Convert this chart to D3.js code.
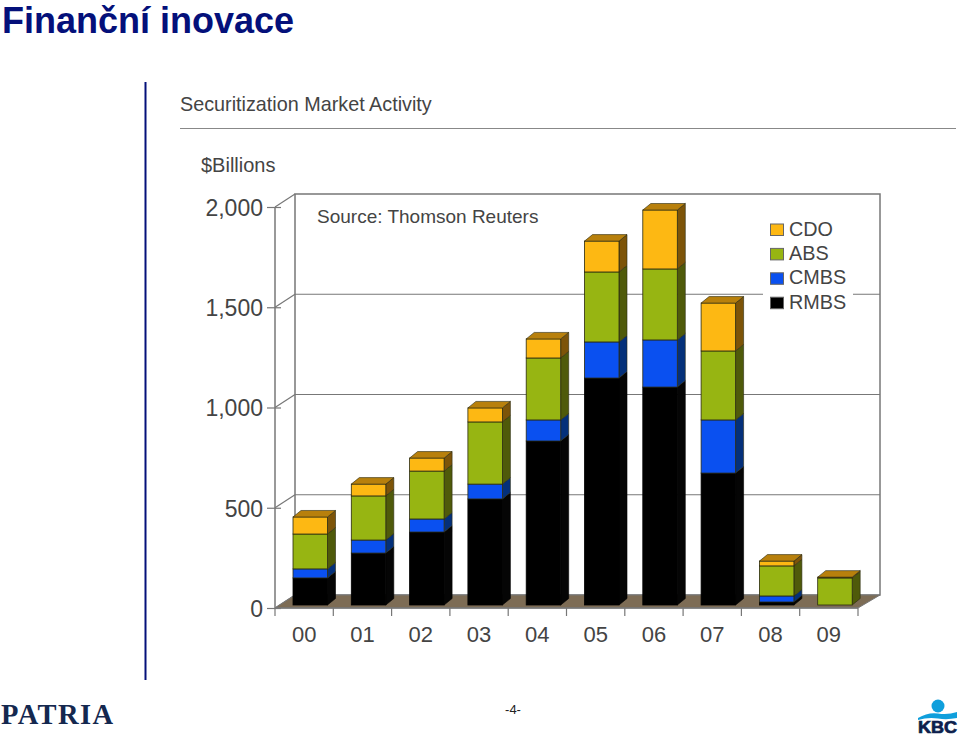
<!DOCTYPE html>
<html><head><meta charset="utf-8">
<script src="https://cdn.jsdelivr.net/npm/d3@7/dist/d3.min.js"></script>
<style>html,body{margin:0;padding:0;background:#fff}svg{display:block}text{font-family:"Liberation Sans",Arial,sans-serif}</style>
</head><body><svg id="c" width="960" height="735"></svg>
<script>
const years = ["00","01","02","03","04","05","06","07","08","09"];
const seriesNames = ["RMBS","CMBS","ABS","CDO"];
const RMBS = [135,259,364,529,818,1132,1087,658,15,0];
const CMBS = [45,65,65,74,105,180,235,265,30,0];
const ABS  = [174,220,239,310,309,349,354,344,150,135];
const CDO  = [85,59,65,70,95,154,294,239,24,4];
const legendOrder = ["CDO","ABS","CMBS","RMBS"];
const yTicks = [0,500,1000,1500,2000];
const faceColors = {RMBS:"#000000",CMBS:"#0a50f0",ABS:"#97b512",CDO:"#fdb813"};
const sideColors = {RMBS:"#050505",CMBS:"#04307a",ABS:"#4f5a0a",CDO:"#7d5408"};
const topColors  = {RMBS:"#111111",CMBS:"#083a9c",ABS:"#6d7d0c",CDO:"#b8800c"};

const svg = d3.select("#c");
const navy = "#04107a", axisC = "#777", textC = "#444";
const depthX = 20, depthY = -13, barDX = 8, barDY = -6.5;
const x = d3.scaleBand().domain(years).range([275,858]);
const y = d3.scaleLinear().domain([0,2000]).range([608,207]);
const barOffset = 18, barW = 34.5, lift = 3;

// Slide title and frame
svg.append("text").attr("x",2).attr("y",32.5).attr("font-size",36).attr("font-weight","bold").attr("fill",navy).text("Finanční inovace");
svg.append("line").attr("x1",145.5).attr("x2",145.5).attr("y1",82).attr("y2",680).attr("stroke",navy).attr("stroke-width",2);
svg.append("text").attr("x",180).attr("y",111).attr("font-size",19.8).attr("fill",textC).text("Securitization Market Activity");
svg.append("line").attr("x1",180).attr("x2",956).attr("y1",128.5).attr("y2",128.5).attr("stroke","#888").attr("stroke-width",1.2);
svg.append("text").attr("x",201).attr("y",172).attr("font-size",20).attr("fill",textC).text("$Billions");

// Walls and floor
const [x0,x1] = x.range();
const g = svg.append("g");
g.append("rect").attr("x",x0+depthX).attr("y",y(2000)+depthY).attr("width",x1+22-x0-depthX).attr("height",y(0)-y(2000))
  .attr("fill","#fff").attr("stroke",axisC).attr("stroke-width",1.5);
g.selectAll(".grid").data(yTicks.slice(1,-1)).join("line")
  .attr("x1",x0+depthX).attr("x2",x1+22).attr("y1",d=>y(d)+depthY).attr("y2",d=>y(d)+depthY)
  .attr("stroke",axisC).attr("stroke-width",1.2);
g.selectAll(".wall").data(yTicks).join("line")
  .attr("x1",x0).attr("x2",x0+depthX).attr("y1",d=>y(d)).attr("y2",d=>y(d)+depthY)
  .attr("stroke",axisC).attr("stroke-width",1.2);
g.append("path").attr("d",d3.line()([[x0,y(0)],[x0+depthX,y(0)+depthY],[x1+22,y(0)+depthY],[x1,y(0)]])+"Z")
  .attr("fill","#7d6c55").attr("stroke",axisC).attr("stroke-width",1);

// Axes
const yAxis = d3.axisLeft(y).tickValues(yTicks).tickFormat(d3.format(",")).tickSize(8).tickPadding(4);
const ya = svg.append("g").attr("transform",`translate(${x0},0)`).call(yAxis);
ya.selectAll("line").attr("x2",6).attr("x1",-8).attr("stroke",axisC).attr("stroke-width",1.2);
ya.select(".domain").attr("stroke",axisC).attr("stroke-width",1.5).attr("d",`M0,${y(2000)}V${y(0)}`);
ya.selectAll("text").attr("font-size",23).attr("fill",textC).attr("x",-12).attr("dy","0.36em").style("font-family",'"Liberation Sans"');

const xAxis = d3.axisBottom(x).tickSize(0).tickPadding(18);
const xa = svg.append("g").attr("transform",`translate(0,${y(0)})`).call(xAxis);
xa.select(".domain").attr("stroke",axisC).attr("stroke-width",1.5).attr("d",`M${x0},0H${x1}`);
xa.selectAll("text").attr("font-size",22).attr("fill",textC).style("font-family",'"Liberation Sans"');
svg.append("g").selectAll("line").data(years.map(d=>x(d)).concat([x1])).join("line")
  .attr("x1",d=>d).attr("x2",d=>d).attr("y1",y(0)).attr("y2",y(0)+8).attr("stroke",axisC).attr("stroke-width",1.2);

// Stacked 3D bars
const rows = years.map((k,i)=>({year:k,RMBS:RMBS[i],CMBS:CMBS[i],ABS:ABS[i],CDO:CDO[i]}));
const stacked = d3.stack().keys(seriesNames)(rows);
const bars = svg.append("g");
const edge = "#2a2a10";
rows.forEach((r,i)=>{
  const bx = x(r.year)+barOffset, bg = bars.append("g");
  stacked.forEach(s=>{
    const [a,b] = s[i];
    if (b-a<=0) return;
    const t = y(b)-lift, bt = y(a)-lift, k = s.key;
    bg.append("path").attr("d",d3.line()([[bx+barW,t],[bx+barW+barDX,t+barDY],[bx+barW+barDX,bt+barDY],[bx+barW,bt]])+"Z")
      .attr("fill",sideColors[k]).attr("stroke",k==="RMBS"?"#000":edge).attr("stroke-width",.6);
    bg.append("rect").attr("x",bx).attr("y",t).attr("width",barW).attr("height",bt-t)
      .attr("fill",faceColors[k]).attr("stroke",k==="RMBS"?"#000":edge).attr("stroke-width",.8);
  });
  const last = stacked[stacked.length-1];
  const t = y(last[i][1])-lift, k = last.key;
  bg.append("path").attr("d",d3.line()([[bx,t],[bx+barDX,t+barDY],[bx+barW+barDX,t+barDY],[bx+barW,t]])+"Z")
    .attr("fill",topColors[k]).attr("stroke",edge).attr("stroke-width",.6);
});

// Annotations
svg.append("text").attr("x",317).attr("y",223).attr("font-size",19).attr("fill",textC).text("Source: Thomson Reuters");
svg.append("rect").attr("x",763).attr("y",215).attr("width",90).attr("height",100).attr("fill","#fff");
const lg = svg.append("g").selectAll("g").data(legendOrder).join("g")
  .attr("transform",(d,i)=>`translate(770,${223.5+i*24.4})`);
lg.append("rect").attr("x",.5).attr("y",.5).attr("width",13).attr("height",11.5).attr("fill",d=>faceColors[d]).attr("stroke","#666").attr("stroke-width",1);
lg.append("text").attr("x",19).attr("y",12).attr("font-size",19.8).attr("fill",textC).text(d=>d);

// Footer
svg.append("text").attr("x",1).attr("y",724).attr("font-size",28.5).attr("font-weight","bold").attr("fill","#14284f")
  .style("font-family",'"Liberation Serif"').attr("textLength",112).text("PATRIA");
svg.append("text").attr("x",513).attr("y",714).attr("text-anchor","middle").attr("font-size",13).attr("fill","#222").text("-4-");
const kbc = svg.append("g");
kbc.append("circle").attr("cx",938).attr("cy",706).attr("r",6.5).attr("fill","#0f9fdc");
kbc.append("path").attr("d","M918,718 Q928,712 938,713.5 Q948,715 957,712 V718 Q947,720 938,718.5 Q928,717 918,720 Z").attr("fill","#0f9fdc");
kbc.append("text").attr("x",918).attr("y",733).attr("font-size",16).attr("font-weight","bold").attr("fill","#0d1f4d")
  .attr("textLength",39).attr("lengthAdjust","spacingAndGlyphs").attr("stroke","#0d1f4d").attr("stroke-width",.7).text("KBC");
</script></body></html>
